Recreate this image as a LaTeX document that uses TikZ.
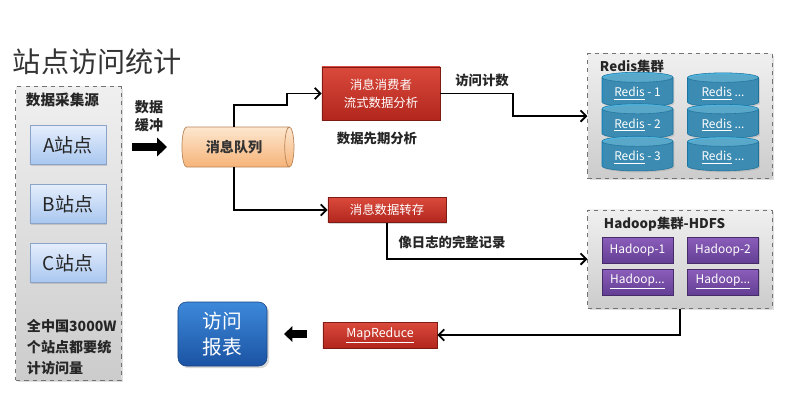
\documentclass[tikz,border=0pt]{standalone}
\usepackage{fontspec}
\setmainfont{Noto Sans CJK SC}
\usetikzlibrary{positioning, shapes.geometric, arrows.meta, shadows, calc}

\definecolor{siteTop}{HTML}{E4EEFC}
\definecolor{siteBot}{HTML}{A9C6EF}
\definecolor{siteLine}{HTML}{8BA3C6}
\definecolor{queueTop}{HTML}{FDE7CF}
\definecolor{queueBot}{HTML}{F6B378}
\definecolor{redTop}{HTML}{DA4A3C}
\definecolor{redBot}{HTML}{B2261D}
\definecolor{diskBody}{HTML}{2590C4}
\definecolor{diskEnd}{HTML}{4DB6E2}
\definecolor{purTop}{HTML}{8B5EBA}
\definecolor{purBot}{HTML}{633E93}
\definecolor{repTop}{HTML}{3D89DA}
\definecolor{repBot}{HTML}{1B53A3}

\tikzset{
  lbl/.style={font=\fontsize{9.5}{12}\selectfont\bfseries, text=black!85},
  panel/.style={draw=black!55, dashed, line width=0.7pt, top color=black!6, bottom color=black!20,
    drop shadow={opacity=0.25, shadow xshift=1.5pt, shadow yshift=-1.5pt}},
  sitebox/.style={draw=siteLine, line width=0.6pt, top color=siteTop, bottom color=siteBot,
    minimum width=1.9cm, minimum height=0.975cm, font=\fontsize{13.5}{16}\selectfont, text=black!85,
    drop shadow={opacity=0.3, shadow xshift=1pt, shadow yshift=-1pt}},
  queue/.style={shape=cylinder, aspect=0.4, draw=queueBot!75!black, line width=0.5pt,
    top color=queueTop, bottom color=queueBot,
    minimum height=2.8cm, minimum width=1.0cm, font=\fontsize{10}{12}\selectfont\bfseries, text=black!80},
  redbox/.style={draw=redBot!70!black, line width=0.5pt, top color=redTop, bottom color=redBot,
    minimum width=2.95cm, minimum height=0.625cm, text=white, font=\fontsize{8.8}{11}\selectfont,
    drop shadow={opacity=0.3, shadow xshift=1pt, shadow yshift=-1pt}},
  disk/.style={shape=cylinder, shape border rotate=90, aspect=0.18, draw=diskBody!80!black, line width=0.4pt,
    cylinder uses custom fill, cylinder body fill=diskBody, cylinder end fill=diskEnd,
    minimum width=1.775cm, minimum height=0.575cm, text=white, font=\fontsize{8.5}{10}\selectfont,
    drop shadow={opacity=0.25, shadow xshift=1pt, shadow yshift=-1pt}},
  purplebox/.style={draw=purBot!70!black, line width=0.4pt, top color=purTop, bottom color=purBot,
    minimum width=1.775cm, minimum height=0.65cm, text=white, font=\fontsize{8.5}{10}\selectfont,
    drop shadow={opacity=0.3, shadow xshift=1pt, shadow yshift=-1pt}},
  report/.style={rounded corners=6pt, top color=repTop, bottom color=repBot, draw=repBot!80!black, line width=0.4pt,
    minimum width=2.225cm, minimum height=1.6cm, text=white, align=center,
    font=\fontsize{14}{18}\selectfont,
    drop shadow={opacity=0.3, shadow xshift=1.5pt, shadow yshift=-1.5pt}},
  conn/.style={line width=1.3pt, -{Straight Barb[length=4pt, width=8pt]}},
  fatarrow/.style={line width=6pt, -{Triangle[length=7pt, width=13pt]}}
}

\begin{document}
\begin{tikzpicture}[x=0.025cm, y=-0.025cm]
        \fill[white] (0,0) rectangle (800,416);
        \useasboundingbox (0,0) rectangle (800,416);

        \node[anchor=west, font=\fontsize{20}{24}\selectfont, text=black!80] (title) at (8,62) {站点访问统计};

        % Data sources
        \node[panel, minimum width=2.625cm, minimum height=7.325cm] (srcpanel) at (68.5,233.5) {};
        \node[anchor=west, lbl, font=\fontsize{10.4}{12}\selectfont\bfseries] (srclabel) at (21,100) {数据采集源};
        \foreach \s/\y in {A/145, B/204, C/263} {
          \node[sitebox] (site\s) at (68,\y) {{\s}站点};
        }
        \node[anchor=north west, lbl, align=left, font=\fontsize{10}{15}\selectfont\bfseries] (note) at (22,314)
          {全中国3000W\\个站点都要统\\计访问量};

        % Buffer
        \node[lbl, align=center, font=\fontsize{10}{13}\selectfont\bfseries] (buflabel) at (149,116) {数据\\缓冲};
        \coordinate (bufin) at (132,147);
        \coordinate (bufout) at (167,147);
        \draw[fatarrow] (bufin) -- (bufout);

        % Queue and consumers
        \node[queue] (mq) at (234,147) {消息队列};
        \node[redbox, minimum height=1.325cm, align=center, font=\fontsize{8.8}{13}\selectfont] (consumer) at (381,93.5)
          {消息消费者\\流式数据分析};
        \node[lbl] (prelabel) at (377,138) {数据先期分析};
        \node[lbl] (countlabel) at (482,80) {访问计数};
        \node[redbox] (store) at (387,210) {消息数据转存};
        \node[lbl] (loglabel) at (452,242) {像日志的完整记录};

        % Redis cluster
        \node[panel, minimum width=4.6cm, minimum height=3.1cm] (redis) at (680,116) {};
        \node[anchor=west, lbl] (redislabel) at (595,66) {Redis集群};
        \foreach \r/\y in {1/93.5, 2/125, 3/157.5} {
          \node[disk] (redis\r) at (637.5,\y) {\underline{Redis} - {\r}};
          \node[disk] (redism\r) at (723,\y) {\underline{Redis} ...};
        }

        % Hadoop cluster
        \node[panel, minimum width=4.6cm, minimum height=2.45cm] (hadoop) at (680,259) {};
        \node[anchor=west, lbl] (hadooplabel) at (599,224) {Hadoop集群-HDFS};
        \node[purplebox] (hadoop1) at (637.5,250) {Hadoop-1};
        \node[purplebox] (hadoop2) at (723,250) {Hadoop-2};
        \node[purplebox] (hadoop3) at (637.5,282) {\underline{Hadoop...}};
        \node[purplebox] (hadoop4) at (723,282) {\underline{Hadoop...}};

        % Report
        \node[redbox, minimum width=2.85cm, minimum height=0.65cm] (mapred) at (380,335) {\underline{MapReduce}};
        \coordinate (mrout) at (307,334);
        \coordinate (repin) at (284,334);
        \draw[fatarrow, line width=5pt, -{Triangle[length=6pt, width=11pt]}] (mrout) -- (repin);
        \node[report] (report) at (222.5,334) {访问\\报表};

        % Connectors
        \coordinate (k1) at (287,105);
        \coordinate (k2) at (513,116);
        \draw[conn] (mq.north) |- (k1) |- (consumer.west);
        \draw[conn] (consumer.east) -| (k2) -- (redis.west);
        \draw[conn] (mq.south) |- (store.west);
        \draw[conn] (store.south) |- (hadoop.west);
        \draw[conn] (hadoop.south) |- (mapred.east);
      \end{tikzpicture}
\end{document}
